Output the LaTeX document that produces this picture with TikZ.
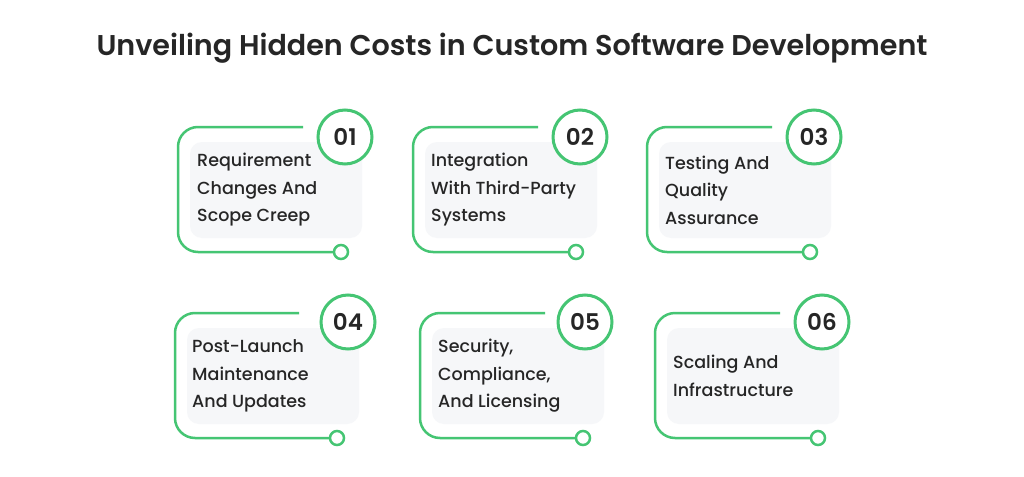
\documentclass[tikz,border=0pt]{standalone}
\usepackage{fontspec}
\setmainfont{Poppins}
\newfontfamily\headfont{Poppins SemiBold}
\newfontfamily\cardfont{Poppins Medium}
\usepackage{xcolor}
\usetikzlibrary{positioning}
\definecolor{trackgreen}{HTML}{45C573}
\definecolor{boxgray}{HTML}{F6F7F9}
\definecolor{darktext}{HTML}{262626}

\tikzset{
  graybox/.style={rectangle, rounded corners=12pt, fill=boxgray, minimum width=172pt, minimum height=96pt},
  cardtext/.style={anchor=west, align=left, inner sep=0pt, text=darktext, font=\cardfont\fontsize{17.5}{27.5}\selectfont},
  track/.style={draw=trackgreen, line width=2.5pt, rounded corners=20pt},
  numcircle/.style={circle, draw=trackgreen, line width=3pt, fill=white, minimum size=54pt, inner sep=0pt,
                    text=darktext, font=\headfont\fontsize{23}{23}\selectfont},
  enddot/.style={circle, draw=trackgreen, line width=2.5pt, fill=white, minimum size=14pt, inner sep=0pt}
}

\begin{document}
\begin{tikzpicture}[x=1pt, y=-1pt]
    \fill[white] (0,0) rectangle (1024,476);
    \useasboundingbox (0,0) rectangle (1024,476);
    % Title
    \node[font=\headfont\fontsize{28.6}{34}\selectfont, text=darktext] (title) at (512,48)
      {Unveiling Hidden Costs in Custom Software Development};
    % 01
    \node[graybox] (box1) at (276,190) {};
    \node[cardtext] (txt1) at (197,190) {Requirement\\Changes And\\Scope Creep};
    \coordinate (tip1) at (303,127);
    \coordinate (bend1) at (178,252);
    \node[enddot] (dot1) at (341,252) {};
    \draw[track] (tip1) -| (bend1) -- (dot1);
    \node[numcircle] (num1) at (345,137) {01};
    % 02
    \node[graybox] (box2) at (511,190) {};
    \node[cardtext] (txt2) at (431,190) {Integration\\With Third-Party\\Systems};
    \coordinate (tip2) at (538,127);
    \coordinate (bend2) at (413,252);
    \node[enddot] (dot2) at (576,252) {};
    \draw[track] (tip2) -| (bend2) -- (dot2);
    \node[numcircle] (num2) at (580,137) {02};
    % 03
    \node[graybox] (box3) at (745,190) {};
    \node[cardtext] (txt3) at (665,190) {Testing And\\Quality\\Assurance};
    \coordinate (tip3) at (772,127);
    \coordinate (bend3) at (647,252);
    \node[enddot] (dot3) at (810,252) {};
    \draw[track] (tip3) -| (bend3) -- (dot3);
    \node[numcircle] (num3) at (814,137) {03};
    % 04
    \node[graybox] (box4) at (273,376) {};
    \node[cardtext] (txt4) at (192,376) {Post-Launch\\Maintenance\\And Updates};
    \coordinate (tip4) at (299,313);
    \coordinate (bend4) at (175,438);
    \node[enddot] (dot4) at (337,438) {};
    \draw[track] (tip4) -| (bend4) -- (dot4);
    \node[numcircle] (num4) at (348,322) {04};
    % 05
    \node[graybox] (box5) at (518,376) {};
    \node[cardtext] (txt5) at (438,376) {Security,\\Compliance,\\And Licensing};
    \coordinate (tip5) at (545,313);
    \coordinate (bend5) at (420,438);
    \node[enddot] (dot5) at (583,438) {};
    \draw[track] (tip5) -| (bend5) -- (dot5);
    \node[numcircle] (num5) at (585,322) {05};
    % 06
    \node[graybox] (box6) at (753,376) {};
    \node[cardtext] (txt6) at (673,376) {Scaling And\\Infrastructure};
    \coordinate (tip6) at (780,313);
    \coordinate (bend6) at (655,438);
    \node[enddot] (dot6) at (818,438) {};
    \draw[track] (tip6) -| (bend6) -- (dot6);
    \node[numcircle] (num6) at (822,322) {06};
\end{tikzpicture}
\end{document}
